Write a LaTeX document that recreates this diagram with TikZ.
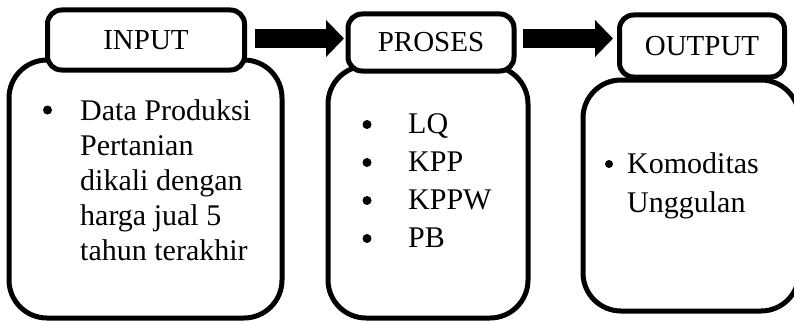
\documentclass[tikz,border=0pt]{standalone}
\usepackage{fontspec}
\setmainfont{Liberation Serif}
\usetikzlibrary{arrows.meta}
\tikzset{
    bigbox/.style = {rectangle, rounded corners=38pt, line width=5pt, draw=black, fill=white},
    headbox/.style = {rectangle, rounded corners=14pt, line width=5pt, draw=black, fill=white, font=\fontsize{29}{35}\selectfont},
    listtext/.style = {inner sep=0pt, anchor=base west, font=\fontsize{30}{35}\selectfont},
    listdot/.style = {circle, fill=black, inner sep=0pt, minimum size=9pt},
    flow/.style = {-{Triangle[length=18pt,width=36pt]}, line width=19pt, draw=black}
}

\begin{document}
\begin{tikzpicture}[x=1pt,y=-1pt]
\useasboundingbox (0,0) rectangle (794,321);
%
% big boxes
\node[bigbox, minimum width=273pt, minimum height=258pt] at (145.5, 189) (inbox) {};
\node[bigbox, minimum width=200pt, minimum height=252pt] at (428, 192) (probox) {};
\node[bigbox, minimum width=216pt, minimum height=231pt] at (691, 195.5) (outbox) {};
%
% headers
\node[headbox, minimum width=197pt, minimum height=60pt] at (146, 40) (inhead) {INPUT};
\node[headbox, minimum width=166pt, minimum height=57pt] at (431, 42.5) (prohead) {PROSES};
\node[headbox, minimum width=165pt, minimum height=62pt] at (702, 46) (outhead) {OUTPUT};
%
\draw[flow, shorten <=7.5pt, shorten >=1.5pt] ([yshift=1.5pt]inhead.east) -- ([yshift=1.5pt]inhead.east -| prohead.west);
\draw[flow, shorten <=6.5pt, shorten >=4pt] ([yshift=4pt]prohead.east) -- ([yshift=4pt]prohead.east -| outhead.west);
%
% input list
\node[listdot] at (47.5, 110) (inb) {};
\foreach \txt [count=\i] in {Data Produksi, Pertanian, dikali dengan, harga jual 5, tahun terakhir}
    \node[listtext] at (80, 85+35*\i) (inl\i) {\txt};
%
% proses list
\foreach \txt [count=\i] in {LQ, KPP, KPPW, PB} {
    \node[listdot] at (367, 86.5+38*\i) (prob\i) {};
    \node[listtext] at (408, 95+38*\i) (prol\i) {\txt};
}
%
% output list
\node[listdot, minimum size=8pt] at (609, 164) (outb) {};
\node[listtext] at (627, 173) (outl1) {Komoditas};
\node[listtext] at (627, 212) (outl2) {Unggulan};

\end{tikzpicture}
\end{document}
